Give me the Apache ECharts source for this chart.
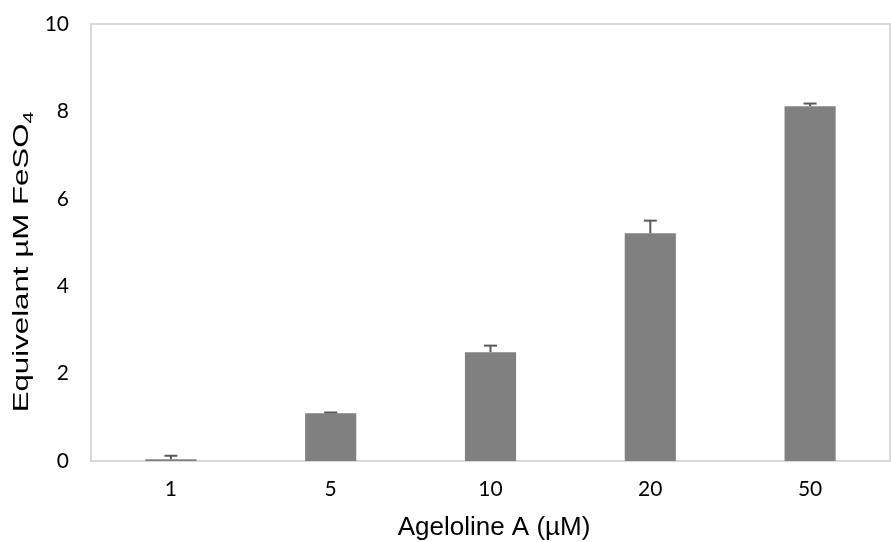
<!DOCTYPE html>
<html>
<head>
<meta charset="utf-8">
<script src="https://cdn.jsdelivr.net/npm/echarts@6/dist/echarts.min.js"></script>
<style>
  html, body { margin: 0; padding: 0; background: #fff; }
  #chart { width: 891px; height: 542px; }
</style>
</head>
<body>
<div id="chart"></div>
<script>
// Ageloline A concentrations (µM) and FRAP response
const categories = ['1', '5', '10', '20', '50'];
const means = [0.04, 1.09, 2.49, 5.21, 8.12];
const errors = [0.08, 0.02, 0.15, 0.29, 0.06];
const yTicks = [0, 2, 4, 6, 8, 10];
const xTitle = 'Ageloline A (µM)';
const yTitleMain = 'Equivelant µM FeSO';
const yTitleSub = '4';

const chart = echarts.init(document.getElementById('chart'));

const errorData = categories.map((c, i) => [i, means[i], means[i] + errors[i]]);
const tickFont = 'Lato, "Open Sans", sans-serif';
const titleFont = '"Liberation Sans", Arial, sans-serif';

chart.setOption({
  animation: false,
  grid: {
    left: 91, right: 1, top: 24, bottom: 81,
    show: true, borderColor: '#d9d9d9', borderWidth: 2
  },
  xAxis: {
    type: 'category',
    data: categories,
    axisLine: { show: false },
    axisTick: { show: false },
    axisLabel: { fontFamily: tickFont, fontSize: 21, color: '#000', margin: 18 }
  },
  yAxis: {
    type: 'value',
    min: yTicks[0], max: yTicks[yTicks.length - 1], interval: 2,
    splitLine: { show: false },
    axisLine: { show: false },
    axisTick: { show: false },
    axisLabel: { fontFamily: tickFont, fontSize: 21, color: '#000', margin: 22 }
  },
  graphic: [
    {
      type: 'text',
      x: 494, y: 528,
      style: {
        text: xTitle,
        font: '26px ' + titleFont,
        fill: '#000',
        align: 'center',
        verticalAlign: 'middle'
      }
    },
    {
      type: 'text',
      x: 22, y: 262,
      rotation: Math.PI / 2,
      scaleX: 1.42,
      style: {
        text: yTitleMain + '{sub|' + yTitleSub + '}',
        font: '22px ' + titleFont,
        fill: '#000',
        align: 'center',
        verticalAlign: 'middle',
        rich: {
          sub: { font: '15px ' + titleFont, fill: '#000', verticalAlign: 'bottom', padding: [14, 0, 0, 0] }
        }
      }
    }
  ],
  series: [
    {
      type: 'bar',
      data: means,
      barWidth: '32%',
      itemStyle: { color: '#808080' },
      z: 2
    },
    {
      type: 'custom',
      data: errorData,
      z: 3,
      renderItem: function (params, api) {
        const x = api.value(0);
        const lo = api.coord([x, api.value(1)]);
        const hi = api.coord([x, api.value(2)]);
        const half = 6.5;
        const style = { stroke: '#595959', lineWidth: 2 };
        return {
          type: 'group',
          children: [
            { type: 'line', shape: { x1: lo[0], y1: lo[1], x2: hi[0], y2: hi[1] }, style: style },
            { type: 'line', shape: { x1: hi[0] - half, y1: hi[1], x2: hi[0] + half, y2: hi[1] }, style: style }
          ]
        };
      }
    }
  ]
});
</script>
</body>
</html>
